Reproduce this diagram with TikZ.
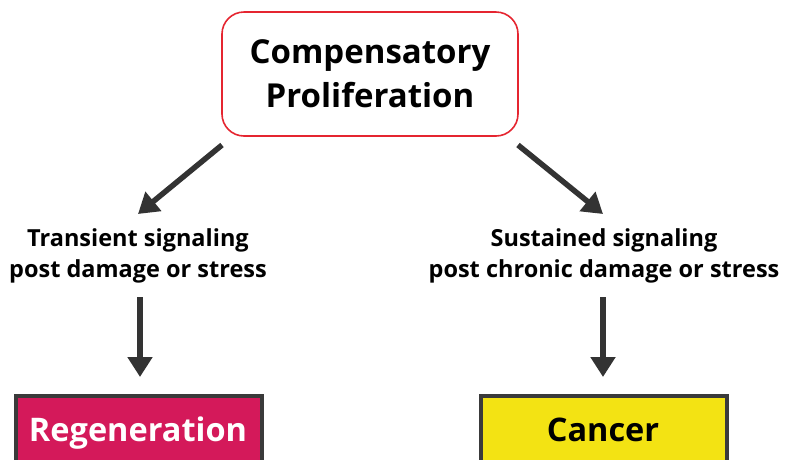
\documentclass[tikz,border=0pt]{standalone}
\usepackage{fontspec}
\setmainfont{Open Sans}
\usetikzlibrary{arrows.meta}
\definecolor{boxred}{HTML}{E52530}
\definecolor{crimson}{HTML}{D4195A}
\definecolor{yel}{HTML}{F3E313}
\definecolor{arr}{HTML}{333333}
\definecolor{edge}{HTML}{3A3A3A}
\tikzset{
  flow/.style={draw=arr, line width=5.5pt, -{Triangle[length=20pt,width=24pt]}},
  lbl/.style={font=\fontsize{23.5}{31}\selectfont\bfseries, align=center, inner sep=0pt},
  outcome/.style={draw=edge, line width=4pt, minimum width=246pt, minimum height=90pt, anchor=north west, inner sep=0pt},
  outtext/.style={font=\fontsize{32.5}{36}\selectfont\bfseries, anchor=base},
}
\begin{document}
\begin{tikzpicture}[x=1pt,y=-1pt]
\useasboundingbox (0,0) rectangle (788,459);
\clip (0,0) rectangle (788,459);
\node[draw=boxred, line width=1.6pt, rounded corners=22pt, minimum width=296pt, minimum height=124pt, align=center,
  font=\fontsize{33}{44}\selectfont\bfseries, inner sep=0pt] (cp) at (370,74) {Compensatory\\Proliferation};
\node[lbl] (tr) at (138,256) {Transient signaling\\post damage or stress};
\node[lbl] (su) at (604,256) {Sustained signaling\\post chronic damage or stress};
\node[outcome, fill=crimson] (rg) at (14,394) {};
\node[outcome, fill=yel] (ca) at (479,394) {};
\node[outtext, text=white] (rgt) at (138,441) {Regeneration};
\node[outtext, text=black] (cat) at (603,441) {Cancer};
\coordinate (l1) at (222,145);
\coordinate (l2) at (138,214);
\coordinate (r1) at (518,145);
\coordinate (r2) at (603,214);
\draw[flow] (l1) -- (l2);
\draw[flow] (r1) -- (r2);
\draw[flow] (140,297) -- (140,377);
\draw[flow] (603,297) -- (603,377);
\end{tikzpicture}
\end{document}
